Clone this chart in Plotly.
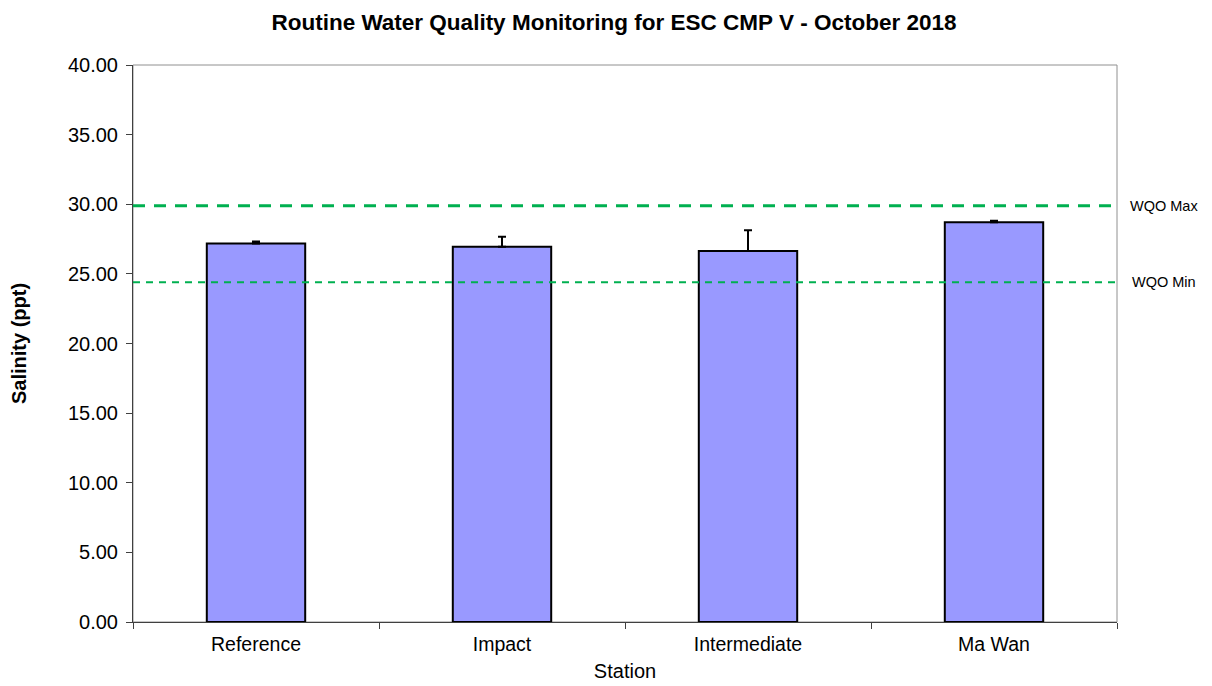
import plotly.graph_objects as go

stations = ["Reference", "Impact", "Intermediate", "Ma Wan"]
salinity = [27.18, 26.94, 26.65, 28.71]
salinity_sd = [0.15, 0.72, 1.49, 0.10]
wqo_max = 29.9
wqo_min = 24.4
y_ticks = [0, 5, 10, 15, 20, 25, 30, 35, 40]

FONT = "Liberation Sans, Arial, sans-serif"

fig = go.Figure()
fig.add_trace(go.Bar(
    x=stations, y=salinity,
    marker=dict(color="#9999FF", line=dict(color="black", width=2)),
    error_y=dict(type="data", array=salinity_sd, symmetric=False,
                 arrayminus=[0]*len(stations), color="black", thickness=2, width=4),
    width=0.4,
))

fig.add_shape(type="line", xref="paper", yref="y", x0=0, x1=1, y0=wqo_max, y1=wqo_max,
              line=dict(color="#00B050", width=3, dash="12px,9px"))
fig.add_shape(type="line", xref="paper", yref="y", x0=0, x1=1, y0=wqo_min, y1=wqo_min,
              line=dict(color="#00B050", width=2, dash="7px,6px"))

fig.add_annotation(xref="paper", yref="y", x=1.011, y=wqo_max, text="WQO Max",
                   showarrow=False, xanchor="left", font=dict(size=14.5, color="black", family=FONT))
fig.add_annotation(xref="paper", yref="y", x=1.013, y=wqo_min, text="WQO Min",
                   showarrow=False, xanchor="left", font=dict(size=14.5, color="black", family=FONT))

fig.update_layout(
    width=1212, height=686,
    margin=dict(l=125, r=103, t=57, b=72),
    paper_bgcolor="white", plot_bgcolor="white",
    showlegend=False,
    font=dict(family=FONT, color="black", size=19),
    title=dict(text="<b>Routine Water Quality Monitoring for ESC CMP V - October 2018</b>",
               x=0.5, xanchor="center", yref="container", y=1 - 14/686, yanchor="middle",
               font=dict(size=22.5, family=FONT, color="black")),
    xaxis=dict(
        title=dict(text="Station", font=dict(size=20), standoff=9),
        showline=True, linecolor="#404040", linewidth=1, mirror=False,
        ticks="outside", tickson="boundaries", ticklen=6, tickcolor="#404040",
        tickfont=dict(size=19.5), ticklabelstandoff=5,
        range=[-0.5, 3.5],
    ),
    yaxis=dict(
        title=dict(text="<b>Salinity (ppt)</b>", font=dict(size=20), standoff=35),
        range=[0, 40], tickvals=y_ticks, tickformat=".2f",
        showline=True, linecolor="#404040", linewidth=1,
        ticks="outside", ticklen=6, tickcolor="#404040", ticklabelstandoff=4,
        showgrid=False, zeroline=False, tickfont=dict(size=20),
    ),
)

fig.add_shape(type="rect", xref="paper", yref="paper", x0=0, x1=1, y0=0, y1=1,
              line=dict(color="#909090", width=1), layer="below")

fig.write_html("out.html")
